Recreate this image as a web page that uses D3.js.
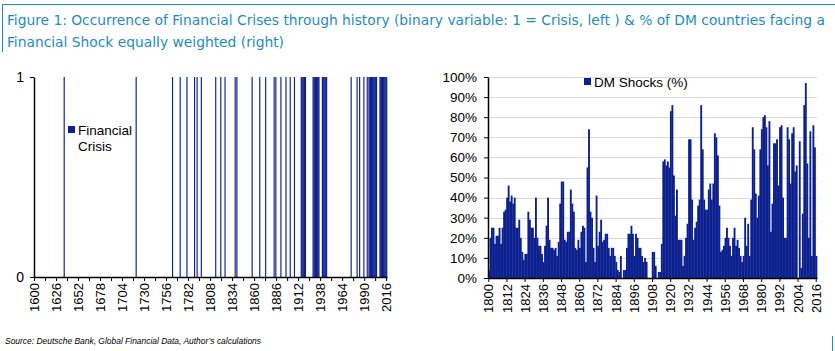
<html>
<head>
    <style>
        body {
            margin: 0;
            background: white;
            font-family: "Liberation Sans", Arial, sans-serif;
        }

        svg {
            display: block;
        }
    </style>
    <script src="https://d3js.org/d3.v7.min.js"></script>
</head>

<body>
    <svg id="Figure"></svg>
</body>

<script>
    // title / notes
    let titleLines = [
        "Figure 1: Occurrence of Financial Crises through history (binary variable: 1 = Crisis, left ) &  % of DM countries facing a",
        "Financial Shock equally weighted (right)"
    ]
    let sourceNote = "Source: Deutsche Bank, Global Financial Data, Author\u2019s calculations"

    // left chart: years flagged as a financial crisis (value 1)
    let crisisYears = [1635, 1720, 1763, 1772, 1780, 1789, 1792, 1797, 1814, 1820, 1825, 1837, 1839,
        1857, 1866, 1873, 1883, 1885, 1891, 1897, 1902, 1907,
        1915, 1916, 1917, 1918, 1919, 1920,
        1929, 1930, 1931, 1932, 1933, 1934, 1935, 1936,
        1940, 1941, 1942, 1943, 1944, 1945,
        1974, 1981, 1984, 1989, 1993,
        1995, 1996, 1997, 1998, 1999, 2000, 2001, 2002, 2003, 2004,
        2008, 2009, 2010, 2011, 2012, 2013, 2014, 2015, 2016]
    let crisisFirstYear = 1600
    let crisisLastYear = 2016
    let crisisTickLabels = [1600, 1626, 1652, 1678, 1704, 1730, 1756, 1782, 1808, 1834, 1860, 1886, 1912, 1938, 1964, 1990, 2016]
    let crisisLegend = ["Financial", "Crisis"]

    // right chart: % of DM countries facing a financial shock, 1800..2016
    let shockFirstYear = 1800
    let shockValues = [
        4, 20, 25, 25, 17, 21, 21, 25, 17, 25,      // 1800s
        33, 34, 40, 46, 38, 41, 37, 40, 25, 25,     // 1810s
        29, 20, 13, 9, 12, 12, 33, 29, 25, 25,      // 1820s
        20, 40, 20, 16, 16, 12, 8, 16, 26, 40,      // 1830s
        19, 15, 15, 14, 15, 11, 18, 37, 48, 48,     // 1840s
        19, 18, 23, 23, 44, 37, 33, 15, 14, 19,     // 1850s
        15, 23, 26, 25, 8, 55, 74, 33, 30, 15,      // 1860s
        8, 41, 16, 23, 29, 18, 19, 22, 22, 15,      // 1870s
        11, 15, 15, 11, 8, 4, 3, 11, 0, 4,          // 1880s
        4, 15, 22, 22, 26, 22, 11, 22, 20, 15,      // 1890s
        15, 11, 8, 10, 8, 0, 0, 0, 13, 13,          // 1900s
        6, 0, 3, 3, 17, 58, 59, 56, 58, 55,         // 1910s
        83, 86, 51, 31, 44, 19, 19, 19, 6, 11,      // 1920s
        20, 27, 69, 69, 39, 19, 25, 28, 36, 39,     // 1930s
        86, 64, 39, 34, 34, 44, 47, 39, 47, 72,     // 1940s
        70, 61, 36, 13, 14, 16, 20, 25, 20, 16,     // 1950s
        11, 20, 25, 16, 19, 15, 11, 8, 11, 30,      // 1960s
        16, 27, 11, 39, 75, 64, 42, 30, 41, 64,     // 1970s
        74, 80, 81, 75, 56, 78, 23, 37, 67, 67,     // 1980s
        69, 46, 75, 76, 40, 20, 20, 75, 69, 47,     // 1990s
        72, 75, 53, 56, 0, 68, 5, 32, 86, 97,       // 2000s
        57, 20, 73, 11, 76, 65, 11                  // 2010s
    ]
    let shockTickLabels = [1800, 1812, 1824, 1836, 1848, 1860, 1872, 1884, 1896, 1908, 1920, 1932, 1944, 1956, 1968, 1980, 1992, 2004, 2016]
    let shockYTicks = [0, 10, 20, 30, 40, 50, 60, 70, 80, 90, 100]
    let shockLegend = "DM Shocks (%)"

    let barColor = "#0b1f8e"
    let titleColor = "#1e8bc5"

    ////////////////////////////////////////////////////////////////

    function getConfig() {
        let width = 835
        let height = 351
        let container = d3.select("#Figure")
            .attr("width", width)
            .attr("height", height)
        return { width, height, container }
    }

    function drawTitle(config) {
        let { container } = config
        container.append("line")
            .attr("x1", 2.5).attr("x2", 835).attr("y1", 4.5).attr("y2", 4.5)
            .attr("stroke", titleColor).attr("stroke-width", 1)
        container.append("line")
            .attr("x1", 2.5).attr("x2", 2.5).attr("y1", 4.5).attr("y2", 52)
            .attr("stroke", titleColor).attr("stroke-width", 1)

        let widths = [818, 277]
        container.selectAll(".title")
            .data(titleLines)
            .enter().append("text")
            .attr("class", "title")
            .attr("x", 7)
            .attr("y", (d, i) => 25 + i * 22)
            .attr("textLength", (d, i) => widths[i])
            .attr("lengthAdjust", "spacingAndGlyphs")
            .style("font-family", "'Liberation Sans Narrow', 'DejaVu Sans Condensed', sans-serif")
            .style("font-size", "14.5px")
            .attr("fill", titleColor)
            .text(d => d)

        container.append("text")
            .attr("x", 5)
            .attr("y", 344)
            .attr("textLength", 256)
            .attr("lengthAdjust", "spacingAndGlyphs")
            .style("font-size", "8.5px")
            .style("font-style", "italic")
            .text(sourceNote)

        container.append("line")
            .attr("x1", 832.5).attr("x2", 832.5).attr("y1", 336).attr("y2", 351)
            .attr("stroke", titleColor).attr("stroke-width", 1)
    }

    function styleRotatedLabels(axisG) {
        axisG.selectAll("text")
            .attr("transform", "rotate(-90)")
            .attr("x", -6)
            .attr("y", 0)
            .attr("dy", "0.35em")
            .attr("text-anchor", "end")
    }

    function drawCrisisChart(config) {
        let { container } = config
        let top = 77, bottom = 277, left = 34, right = 387

        let years = d3.range(crisisFirstYear, crisisLastYear + 1)
        let xScale = d3.scaleBand().domain(years).range([left, right]).padding(0)
        let yScale = d3.scaleLinear().domain([0, 1]).range([bottom, top])

        let body = container.append("g")
        body.selectAll(".crisis")
            .data(crisisYears)
            .enter().append("rect")
            .attr("class", "crisis")
            .attr("x", d => xScale(d))
            .attr("width", Math.max(1.1, xScale.bandwidth() + 0.3))
            .attr("y", yScale(1))
            .attr("height", yScale(0) - yScale(1))
            .attr("fill", barColor)

        // x axis with tick marks every 13 years, labels every 26
        let axisX = d3.axisBottom(xScale)
            .tickValues(years.filter(y => (y - crisisFirstYear) % 13 == 0))
            .tickSize(4)
            .tickSizeOuter(0)
            .tickFormat(y => crisisTickLabels.includes(y) ? y : "")
        let gx = container.append("g")
            .attr("transform", `translate(0,${bottom})`)
            .call(axisX)
        gx.select(".domain").attr("stroke-width", 1.5)
        gx.selectAll("text").style("font-size", "13px").style("font-family", "'Liberation Sans', Arial, sans-serif").attr("fill", "#000")
        styleRotatedLabels(gx)

        let axisY = d3.axisLeft(yScale)
            .tickValues([0, 1])
            .tickFormat(d3.format("d"))
            .tickSize(4)
            .tickSizeOuter(0)
        let gy = container.append("g")
            .attr("transform", `translate(${left},0)`)
            .call(axisY)
        gy.select(".domain").attr("stroke-width", 1.5)
        gy.selectAll("text").attr("x", -10).style("font-size", "14px").style("font-family", "'Liberation Sans', Arial, sans-serif").attr("fill", "#000")

        // legend
        container.append("rect")
            .attr("x", 68).attr("y", 126).attr("width", 7).attr("height", 7)
            .attr("fill", barColor)
        container.selectAll(".crisisLegend")
            .data(crisisLegend)
            .enter().append("text")
            .attr("class", "crisisLegend")
            .attr("x", 78)
            .attr("y", (d, i) => 134.5 + i * 16)
            .style("font-size", "13.5px")
            .text(d => d)
    }

    function drawShockChart(config) {
        let { container } = config
        let top = 77, bottom = 278, left = 488, right = 817

        let years = shockValues.map((v, i) => shockFirstYear + i)
        let xScale = d3.scaleBand().domain(years).range([left, right]).padding(0)
        let yScale = d3.scaleLinear().domain([0, 100]).range([bottom, top])

        // grid
        container.append("g").selectAll(".grid")
            .data(shockYTicks.filter(t => t > 0))
            .enter().append("line")
            .attr("x1", left).attr("x2", right)
            .attr("y1", d => Math.round(yScale(d)) + 0.5)
            .attr("y2", d => Math.round(yScale(d)) + 0.5)
            .attr("stroke", "#d9d9d9")
            .attr("stroke-width", 1)

        let body = container.append("g")
        body.selectAll(".shock")
            .data(shockValues)
            .enter().append("rect")
            .attr("class", "shock")
            .attr("x", (d, i) => xScale(years[i]))
            .attr("width", xScale.bandwidth() + 0.35)
            .attr("y", d => yScale(d))
            .attr("height", d => yScale(0) - yScale(d))
            .attr("fill", barColor)

        let axisX = d3.axisBottom(xScale)
            .tickValues(shockTickLabels)
            .tickSize(4)
            .tickSizeOuter(0)
        let gx = container.append("g")
            .attr("transform", `translate(0,${bottom})`)
            .call(axisX)
        gx.select(".domain").attr("stroke-width", 1.5)
        gx.selectAll("text").style("font-size", "13px").style("font-family", "'Liberation Sans', Arial, sans-serif").attr("fill", "#000")
        styleRotatedLabels(gx)

        let axisY = d3.axisLeft(yScale)
            .tickValues(shockYTicks)
            .tickFormat(d => d + "%")
            .tickSize(4)
            .tickSizeOuter(0)
        let gy = container.append("g")
            .attr("transform", `translate(${left},0)`)
            .call(axisY)
        gy.select(".domain").attr("stroke-width", 1.5)
        gy.selectAll("text").attr("x", -11).style("font-size", "13.5px").style("font-family", "'Liberation Sans', Arial, sans-serif").attr("fill", "#000")

        // legend
        container.append("rect")
            .attr("x", 584).attr("y", 78).attr("width", 7).attr("height", 7)
            .attr("fill", barColor)
        container.append("text")
            .attr("x", 594)
            .attr("y", 86.5)
            .style("font-size", "13.5px")
            .text(shockLegend)
    }

    function showData() {
        let config = getConfig()
        drawTitle(config)
        drawCrisisChart(config)
        drawShockChart(config)
    }

    showData()
</script>

</html>
